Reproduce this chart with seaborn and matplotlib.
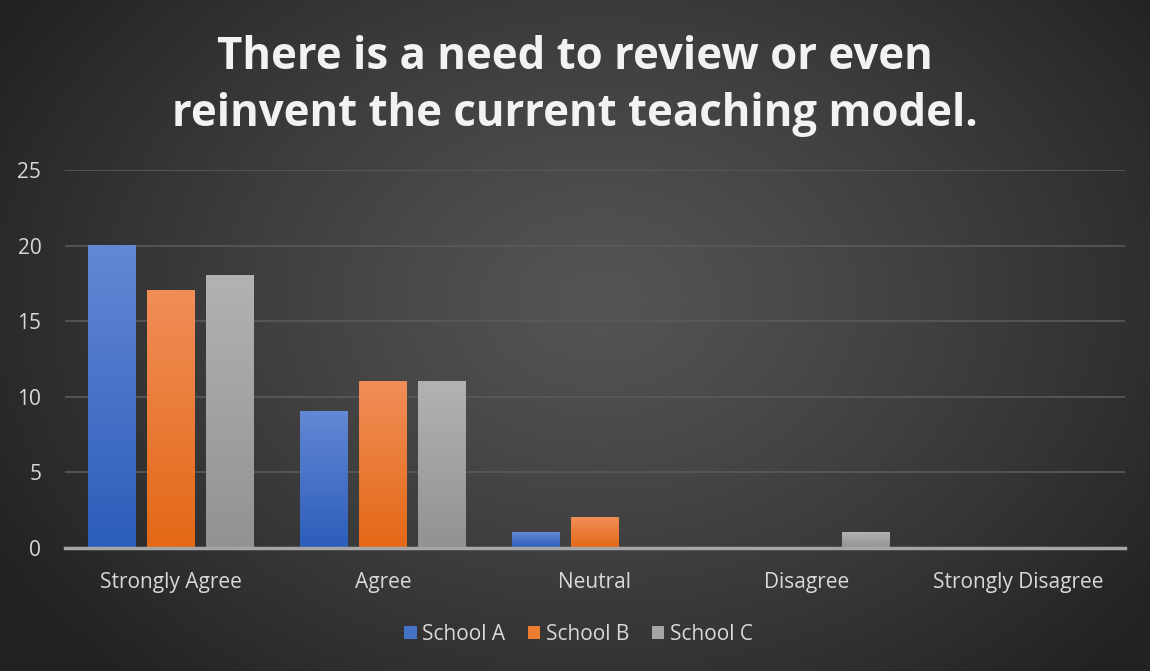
import numpy as np
import pandas as pd
import matplotlib
matplotlib.use("Agg")
import matplotlib.pyplot as plt
from matplotlib.colors import LinearSegmentedColormap
from matplotlib.patches import Patch
import seaborn as sns

# Survey responses per school
categories = ["Strongly Agree", "Agree", "Neutral", "Disagree", "Strongly Disagree"]
schools = ["School A", "School B", "School C"]
school_a = [20, 9, 1, 0, 0]
school_b = [17, 11, 2, 0, 0]
school_c = [18, 11, 0, 1, 0]
y_ticks = [0, 5, 10, 15, 20, 25]

df = pd.DataFrame({
    "Response": categories * 3,
    "School": [s for s in schools for _ in categories],
    "Count": school_a + school_b + school_c,
})

# (bottom, top) colours for the vertical bar gradients
grad = {
    "School A": ("#2c5dbb", "#6388d4"),
    "School B": ("#e36816", "#f18e58"),
    "School C": ("#929292", "#b2b2b2"),
}
solid = {"School A": "#4472c4", "School B": "#ed7d31", "School C": "#a5a5a5"}

sns.set_theme(style="dark")
plt.rcParams["font.family"] = ["Open Sans", "DejaVu Sans"]

fig = plt.figure(figsize=(11.5, 6.71), dpi=100)

# Radial dark background
bg = fig.add_axes([0, 0, 1, 1], zorder=-10)
h, w = 671, 1150
yy, xx = np.mgrid[0:h, 0:w]
cx, cy = 600, 300
r = np.sqrt(((xx - cx) / 700.0) ** 2 + ((yy - cy) / 520.0) ** 2)
r = np.clip(r, 0, 1)
val = (0x54 - (0x54 - 0x22) * r ** 1.2) / 255.0
bg.imshow(np.dstack([val, val, val]), aspect="auto", extent=[0, 1, 0, 1])
bg.set_axis_off()

ax = fig.add_axes([0.0565, 0.1833, 0.9215, 0.5633])
ax.patch.set_alpha(0)

sns.barplot(data=df, x="Response", y="Count", hue="School",
            palette=solid, width=0.835, gap=0.19, ax=ax, legend=False,
            saturation=1)

# Replace flat fills with vertical gradients
n_cat = len(categories)
for i, patch in enumerate(ax.patches):
    school = schools[i // n_cat]
    x0 = patch.get_x()
    wd = patch.get_width()
    ht = patch.get_height()
    patch.set_alpha(0)
    if ht <= 0:
        continue
    c0, c1 = grad[school]
    cmap = LinearSegmentedColormap.from_list("g", [c0, c1])
    g = np.linspace(0, 1, 256).reshape(-1, 1)
    ax.imshow(g, cmap=cmap, origin="lower", aspect="auto",
              extent=[x0, x0 + wd, 0, ht], zorder=3)

ax.set_xlim(-0.5, n_cat - 0.5)
ax.set_ylim(0, 25)
ax.set_yticks(y_ticks)
ax.set_xlabel("")
ax.set_ylabel("")

ax.grid(axis="y", color="#5a5a5a", linewidth=1.2, zorder=0)
ax.grid(axis="x", visible=False)
ax.set_axisbelow(True)
for s in ["top", "right", "left"]:
    ax.spines[s].set_visible(False)
ax.spines["bottom"].set_color("#a6a6a6")
ax.spines["bottom"].set_linewidth(2.5)
ax.spines["bottom"].set_zorder(4)

ax.tick_params(axis="both", length=0, colors="#d9d9d9", labelsize=15)
ax.tick_params(axis="x", pad=17)
ax.tick_params(axis="y", pad=17)

fig.text(0.5, 0.872, "There is a need to review or even\nreinvent the current teaching model.",
         ha="center", va="center", color="#f2f2f2", fontsize=31.5,
         fontweight="bold", linespacing=1.37)

handles = [Patch(facecolor=solid[s], edgecolor="none") for s in schools]
fig.legend(handles, schools, loc="center", bbox_to_anchor=(0.503, 0.055),
           ncol=3, frameon=False, fontsize=15, labelcolor="#d9d9d9",
           handlelength=0.6, handleheight=0.6, handletextpad=0.25,
           columnspacing=1.1)

fig.savefig("out.png", dpi=100)
